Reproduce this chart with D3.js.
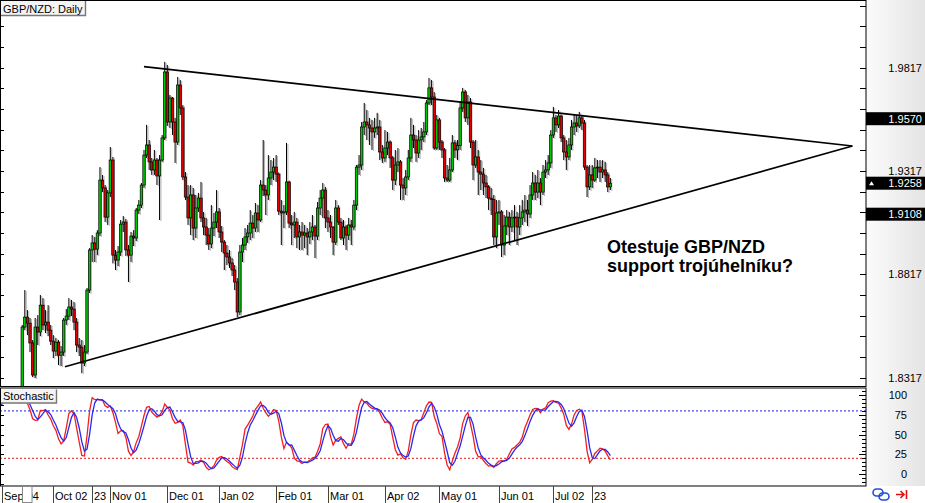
<!DOCTYPE html>
<html><head><meta charset="utf-8">
<script src="https://cdn.jsdelivr.net/npm/d3@7"></script>
<style>html,body{margin:0;padding:0;background:#fff;}svg{display:block;font-family:"Liberation Sans",Arial,sans-serif;}</style>
</head><body><svg id="c" width="925" height="503"></svg>
<script>
// ---------- DATA ----------
const title = "GBP/NZD: Daily";
const firstDate = "2017-08-09";              // first bar in the data (off-screen to the left)
const holidays = ["2017-12-25", "2018-01-01"]; // days with no bar
const firstVisibleDate = "2017-09-04";
// daily bars: [open, high, low, close]
const ohlc = [
[1.7780,1.7840,1.7730,1.7800],[1.7800,1.7850,1.7720,1.7740],[1.7740,1.7790,1.7680,1.7700],[1.7700,1.7760,1.7650,1.7730],
[1.7730,1.7770,1.7640,1.7660],[1.7660,1.7710,1.7600,1.7690],[1.7690,1.7740,1.7640,1.7650],[1.7650,1.7700,1.7590,1.7620],
[1.7620,1.7680,1.7580,1.7660],[1.7660,1.7700,1.7600,1.7640],
[1.7640,1.7720,1.7610,1.7690],[1.7690,1.7750,1.7650,1.7730],[1.7730,1.7800,1.7700,1.7780],[1.7780,1.7830,1.7720,1.7760],
[1.7760,1.7820,1.7690,1.7800],[1.7800,1.7880,1.7780,1.7860],[1.7860,1.7920,1.7820,1.7840],[1.7840,1.7960,1.7830,1.7950],
// Sep 04
[1.7950,1.8010,1.7920,1.7990],[1.7990,1.8060,1.7960,1.8040],[1.8040,1.8100,1.7990,1.8020],[1.8020,1.8130,1.8000,1.8110],
[1.8110,1.8190,1.8080,1.8170],[1.8170,1.8230,1.8110,1.8140],[1.8140,1.8200,1.8090,1.8180],[1.8180,1.8260,1.8150,1.8220],
[1.8220,1.8572,1.8200,1.8562],[1.8562,1.8741,1.8547,1.8610],[1.8610,1.8644,1.8523,1.8581],[1.8581,1.8606,1.8441,1.8485],
[1.8485,1.8499,1.8320,1.8330],[1.8330,1.8606,1.8315,1.8562],[1.8562,1.8620,1.8475,1.8538],[1.8538,1.8717,1.8518,1.8668],
[1.8668,1.8702,1.8547,1.8572],[1.8572,1.8644,1.8533,1.8586],[1.8586,1.8668,1.8518,1.8547],[1.8547,1.8572,1.8475,1.8494],
// Oct 02
[1.8494,1.8523,1.8412,1.8446],[1.8446,1.8509,1.8422,1.8489],[1.8489,1.8499,1.8378,1.8426],[1.8426,1.8470,1.8373,1.8441],
[1.8441,1.8606,1.8422,1.8596],[1.8596,1.8649,1.8572,1.8615],[1.8615,1.8702,1.8596,1.8659],[1.8659,1.8693,1.8615,1.8649],
[1.8649,1.8683,1.8547,1.8586],[1.8586,1.8606,1.8441,1.8475],[1.8475,1.8509,1.8422,1.8465],[1.8465,1.8499,1.8339,1.8388],
[1.8388,1.8475,1.8373,1.8441],[1.8441,1.8751,1.8431,1.8741],[1.8741,1.8944,1.8727,1.8935],[1.8935,1.9007,1.8877,1.8969],
[1.8969,1.8998,1.8877,1.8939],[1.8939,1.9031,1.8910,1.9017],[1.9017,1.9336,1.9002,1.9273],[1.9273,1.9298,1.9215,1.9235],
[1.9235,1.9249,1.9070,1.9094],[1.9094,1.9225,1.9056,1.9211],
// Nov 01
[1.9211,1.9433,1.9191,1.9370],[1.9370,1.9385,1.8870,1.8910],[1.8910,1.8935,1.8838,1.8886],[1.8886,1.8954,1.8857,1.8925],
[1.8925,1.9080,1.8906,1.9060],[1.9060,1.9099,1.9022,1.9070],[1.9070,1.9085,1.8906,1.8935],[1.8935,1.8959,1.8780,1.8910],
[1.8910,1.9022,1.8877,1.9002],[1.9002,1.9031,1.8954,1.8993],[1.8993,1.9138,1.8978,1.9128],[1.9128,1.9177,1.9109,1.9152],
[1.9152,1.9259,1.9138,1.9249],[1.9249,1.9419,1.9235,1.9394],[1.9394,1.9540,1.9380,1.9443],[1.9443,1.9467,1.9322,1.9361],
[1.9361,1.9380,1.9298,1.9322],[1.9322,1.9419,1.9298,1.9370],[1.9370,1.9380,1.9249,1.9293],[1.9293,1.9394,1.9080,1.9370],
[1.9370,1.9491,1.9361,1.9477],[1.9477,1.9845,1.9467,1.9796],
// Dec 01
[1.9796,1.9830,1.9535,1.9554],[1.9554,1.9685,1.9525,1.9670],[1.9670,1.9675,1.9491,1.9554],[1.9554,1.9574,1.9356,1.9457],
[1.9457,1.9772,1.9443,1.9733],[1.9733,1.9757,1.9588,1.9622],[1.9622,1.9636,1.9273,1.9288],[1.9288,1.9312,1.9177,1.9191],
[1.9191,1.9249,1.9056,1.9090],[1.9090,1.9249,1.9007,1.9201],[1.9201,1.9235,1.8983,1.9041],[1.9041,1.9201,1.8993,1.9138],
[1.9138,1.9211,1.9119,1.9186],[1.9186,1.9264,1.9070,1.9090],[1.9090,1.9119,1.9007,1.9046],[1.9046,1.9090,1.8959,1.9007],
[1.9007,1.9041,1.8935,1.8964],[1.8964,1.9152,1.8944,1.9041],[1.9041,1.9114,1.9002,1.9070],[1.9070,1.9225,1.9041,1.9119],
// Jan 02
[1.9119,1.9138,1.8993,1.9022],[1.9022,1.9051,1.8925,1.8973],[1.8973,1.8983,1.8838,1.8920],[1.8920,1.8959,1.8862,1.8901],
[1.8901,1.8935,1.8848,1.8872],[1.8872,1.8896,1.8809,1.8838],[1.8838,1.8862,1.8741,1.8780],[1.8780,1.8799,1.8610,1.8635],
[1.8635,1.8959,1.8620,1.8925],[1.8925,1.8993,1.8877,1.8959],[1.8959,1.9041,1.8935,1.8998],[1.8998,1.9056,1.8969,1.9017],
[1.9017,1.9128,1.8983,1.9065],[1.9065,1.9104,1.8993,1.9041],[1.9041,1.9162,1.9022,1.9114],[1.9114,1.9152,1.9022,1.9080],
[1.9080,1.9273,1.9070,1.9249],[1.9249,1.9467,1.9196,1.9225],[1.9225,1.9249,1.9104,1.9201],[1.9201,1.9394,1.9177,1.9283],
[1.9283,1.9370,1.9249,1.9312],[1.9312,1.9380,1.9273,1.9336],
// Feb 01
[1.9336,1.9394,1.9264,1.9302],[1.9302,1.9310,1.9104,1.9123],[1.9123,1.9177,1.8959,1.9114],[1.9114,1.9152,1.9041,1.9119],
[1.9119,1.9453,1.9104,1.9264],[1.9264,1.9270,1.9041,1.9065],[1.9065,1.9104,1.8959,1.9056],[1.9056,1.9119,1.8993,1.9070],
[1.9070,1.9090,1.8944,1.8998],[1.8998,1.9056,1.8935,1.9022],[1.9022,1.9070,1.8935,1.9007],[1.9007,1.9056,1.8944,1.9017],
[1.9017,1.9041,1.8910,1.8998],[1.8998,1.9070,1.8964,1.9022],[1.9022,1.9104,1.8983,1.9046],[1.9046,1.9056,1.8896,1.9002],
[1.9002,1.9167,1.8983,1.9138],[1.9138,1.9225,1.9104,1.9186],[1.9186,1.9259,1.9090,1.9225],[1.9225,1.9240,1.9041,1.9090],
// Mar 01
[1.9090,1.9128,1.9022,1.9070],[1.9070,1.9104,1.8993,1.9046],[1.9046,1.9050,1.8910,1.8973],[1.8973,1.9177,1.8959,1.9138],
[1.9138,1.9152,1.9056,1.9070],[1.9070,1.9090,1.8983,1.8993],[1.8993,1.9080,1.8959,1.9046],[1.9046,1.9056,1.8935,1.9007],
[1.9007,1.9090,1.8983,1.9056],[1.9056,1.9080,1.8959,1.9046],[1.9046,1.9177,1.9031,1.9152],[1.9152,1.9346,1.9128,1.9336],
[1.9336,1.9394,1.9298,1.9346],[1.9346,1.9554,1.9322,1.9530],[1.9530,1.9646,1.9491,1.9554],[1.9554,1.9612,1.9467,1.9540],
[1.9540,1.9574,1.9443,1.9525],[1.9525,1.9564,1.9419,1.9506],[1.9506,1.9574,1.9477,1.9525],[1.9525,1.9598,1.9491,1.9530],
[1.9530,1.9564,1.9370,1.9409],[1.9409,1.9443,1.9356,1.9380],
// Apr 02
[1.9380,1.9515,1.9361,1.9428],[1.9428,1.9506,1.9394,1.9457],[1.9457,1.9465,1.9332,1.9380],[1.9380,1.9390,1.9225,1.9273],
[1.9273,1.9419,1.9249,1.9346],[1.9346,1.9428,1.9312,1.9361],[1.9361,1.9370,1.9177,1.9249],[1.9249,1.9283,1.9177,1.9235],
[1.9235,1.9322,1.9201,1.9288],[1.9288,1.9419,1.9273,1.9380],[1.9380,1.9574,1.9361,1.9491],[1.9491,1.9540,1.9428,1.9467],
[1.9467,1.9491,1.9361,1.9404],[1.9404,1.9515,1.9380,1.9467],[1.9467,1.9525,1.9419,1.9482],[1.9482,1.9554,1.9457,1.9506],
[1.9506,1.9660,1.9491,1.9646],[1.9646,1.9767,1.9636,1.9719],[1.9719,1.9757,1.9636,1.9675],[1.9675,1.9699,1.9419,1.9428],
[1.9428,1.9588,1.9419,1.9564],
// May 01
[1.9564,1.9574,1.9419,1.9457],[1.9457,1.9467,1.9380,1.9419],[1.9419,1.9428,1.9264,1.9283],[1.9283,1.9346,1.9264,1.9273],
[1.9273,1.9380,1.9264,1.9322],[1.9322,1.9491,1.9312,1.9453],[1.9453,1.9467,1.9380,1.9419],[1.9419,1.9467,1.9370,1.9440],
[1.9440,1.9651,1.9419,1.9622],[1.9622,1.9719,1.9603,1.9699],[1.9699,1.9709,1.9554,1.9574],[1.9574,1.9685,1.9540,1.9651],
[1.9651,1.9670,1.9428,1.9457],[1.9457,1.9467,1.9273,1.9346],[1.9346,1.9467,1.9332,1.9385],[1.9385,1.9419,1.9201,1.9312],
[1.9312,1.9370,1.9225,1.9302],[1.9302,1.9332,1.9201,1.9259],[1.9259,1.9298,1.9186,1.9240],[1.9240,1.9249,1.9128,1.9186],
[1.9186,1.9235,1.9104,1.9180],[1.9180,1.9201,1.8959,1.8998],[1.8998,1.9177,1.8944,1.9114],
// Jun 01
[1.9114,1.9177,1.9056,1.9119],[1.9119,1.9128,1.8901,1.8959],[1.8959,1.9104,1.8910,1.9051],[1.9051,1.9128,1.9007,1.9094],
[1.9094,1.9119,1.8959,1.9046],[1.9046,1.9128,1.9022,1.9090],[1.9090,1.9152,1.8983,1.9094],[1.9094,1.9119,1.8959,1.9046],
[1.9046,1.9152,1.9007,1.9090],[1.9090,1.9177,1.9056,1.9119],[1.9119,1.9201,1.9070,1.9128],[1.9128,1.9177,1.9051,1.9109],
[1.9109,1.9249,1.9090,1.9201],[1.9201,1.9312,1.9177,1.9259],[1.9259,1.9298,1.9177,1.9215],[1.9215,1.9322,1.9186,1.9259],
[1.9259,1.9283,1.9152,1.9215],[1.9215,1.9346,1.9201,1.9312],[1.9312,1.9370,1.9283,1.9322],[1.9322,1.9394,1.9298,1.9356],
[1.9356,1.9515,1.9332,1.9491],
// Jul 02
[1.9491,1.9627,1.9477,1.9574],[1.9574,1.9588,1.9506,1.9540],[1.9540,1.9612,1.9525,1.9583],[1.9583,1.9590,1.9457,1.9477],
[1.9477,1.9491,1.9370,1.9409],[1.9409,1.9467,1.9322,1.9385],[1.9385,1.9477,1.9370,1.9443],[1.9443,1.9564,1.9419,1.9530],
[1.9530,1.9588,1.9491,1.9549],[1.9549,1.9588,1.9506,1.9535],[1.9535,1.9603,1.9525,1.9574],[1.9574,1.9588,1.9515,1.9549],
[1.9549,1.9564,1.9322,1.9336],[1.9336,1.9346,1.9191,1.9240],[1.9240,1.9346,1.9225,1.9298],
// Jul 23
[1.9298,1.9346,1.9235,1.9273],[1.9273,1.9380,1.9264,1.9332],[1.9332,1.9370,1.9283,1.9336],[1.9336,1.9370,1.9264,1.9312],
[1.9312,1.9370,1.9283,1.9322],[1.9322,1.9361,1.9264,1.9298],[1.9298,1.9312,1.9215,1.9240],[1.9240,1.9283,1.9225,1.9258]
];
const priceLabels = [1.9817, 1.9317, 1.8817, 1.8317];
const priceTickStep = 0.01;
const markers = [ {value:1.9570, current:false}, {value:1.9258, current:true}, {value:1.9108, current:false} ];
// trend lines: [date of anchor bar, price] -> [bars after that anchor, price]
const trendLines = [ [["2017-11-20", 1.9822], [273.4, 1.9438]], [["2017-10-06", 1.8370, 0.5], [303.9, 1.9438]] ];
const timeLabels = [["2017-09-04","Sep 04"],["2017-10-02","Oct 02"],["2017-10-23","23"],["2017-11-01","Nov 01"],
  ["2017-12-01","Dec 01"],["2018-01-02","Jan 02"],["2018-02-01","Feb 01"],["2018-03-01","Mar 01"],["2018-04-02","Apr 02"],
  ["2018-05-01","May 01"],["2018-06-01","Jun 01"],["2018-07-02","Jul 02"],["2018-07-23","23"]];
const stochParams = {k:14, d:3, slowing:3};
const stochLevels = [80, 20];
const stochLabels = [100, 75, 50, 25, 0];
const annotation = ["Otestuje GBP/NZD", "support trojúhelníku?"];

// ---------- LAYOUT ----------
const W = 925, H = 503, R = 866;
const main = {top:0, bottom:386.5};
const sto = {top:387.5, bottom:486};
const svg = d3.select("#c");

// trading dates
const fmt = d3.timeFormat("%Y-%m-%d"), parse = d3.timeParse("%Y-%m-%d");
const dates = [];
{ let d = parse(firstDate);
  while (dates.length < ohlc.length) {
    const wd = d.getDay(), s = fmt(d);
    if (wd !== 0 && wd !== 6 && !holidays.includes(s)) dates.push(s);
    d = d3.timeDay.offset(d, 1);
  } }
const i0 = dates.indexOf(firstVisibleDate), iN = ohlc.length - 1;
const x = d3.scaleLinear().domain([i0, iN]).range([1.5, 1.5 + (iN - i0) * 2.591]);
const y = d3.scaleLinear().domain([1.9317, 1.9817]).range([171, 67.65]);
const ys = d3.scaleLinear().domain([0, 100]).range([474.3, 395]);

// defs
const defs = svg.append("defs");
const g1 = defs.append("linearGradient").attr("id","axbg").attr("x1","0").attr("x2","1");
g1.append("stop").attr("offset","0").attr("stop-color","#fbfbfb");
g1.append("stop").attr("offset","1").attr("stop-color","#e4e4e4");
defs.append("clipPath").attr("id","cm").append("rect").attr("x",0).attr("y",main.top).attr("width",R).attr("height",main.bottom-main.top);
defs.append("clipPath").attr("id","cs").append("rect").attr("x",0).attr("y",sto.top).attr("width",R).attr("height",sto.bottom-sto.top);

svg.append("rect").attr("width",W).attr("height",H).attr("fill","#fff");
svg.append("rect").attr("x",R).attr("y",0).attr("width",W-R).attr("height",sto.bottom).attr("fill","url(#axbg)");

// ---------- candles ----------
const gc = svg.append("g").attr("clip-path","url(#cm)");
const bars = ohlc.map((b,i)=>({i, o:b[0], h:b[1], l:b[2], c:b[3]}));
gc.selectAll("line.sh").data(bars).join("line").attr("class","sh")
  .attr("x1",d=>x(d.i)+1.4).attr("x2",d=>x(d.i)+1.4).attr("y1",d=>y(d.h)+1).attr("y2",d=>y(d.l)+1)
  .attr("stroke","#b0b0b0").attr("stroke-width",1);
gc.selectAll("line.wk").data(bars).join("line").attr("class","wk")
  .attr("x1",d=>x(d.i)).attr("x2",d=>x(d.i)).attr("y1",d=>y(d.h)).attr("y2",d=>y(d.l))
  .attr("stroke","#000").attr("stroke-width",1);
gc.selectAll("rect.bd").data(bars).join("rect").attr("class","bd")
  .attr("x",d=>x(d.i)-1.2).attr("width",2.4)
  .attr("y",d=>y(Math.max(d.o,d.c))).attr("height",d=>Math.max(0.8, Math.abs(y(d.o)-y(d.c))))
  .attr("fill",d=>d.c>=d.o?"#00c800":"#e00000").attr("stroke","#000").attr("stroke-width",0.7);

// trend lines
const tIdx = a => dates.indexOf(a[0]) + (a[2] || 0);
gc.selectAll("line.tl").data(trendLines).join("line").attr("class","tl")
  .attr("x1",d=>x(tIdx(d[0]))).attr("y1",d=>y(d[0][1]))
  .attr("x2",d=>x(tIdx(d[0]) + d[1][0])).attr("y2",d=>y(d[1][1]))
  .attr("stroke","#000").attr("stroke-width",1.7);

// annotation
svg.append("g").selectAll("text").data(annotation).join("text")
  .attr("x",607).attr("y",(d,i)=>253+i*18.5).text(d=>d)
  .attr("font-weight","bold").attr("font-size",18).attr("fill","#000");

// ---------- stochastic ----------
const kv = [], dv = [];
for (let i=0;i<bars.length;i++){
  if (i >= stochParams.k-1 + stochParams.slowing-1){
    let num=0, den=0;
    for (let j=i-stochParams.slowing+1;j<=i;j++){
      const win = bars.slice(j-stochParams.k+1, j+1);
      const ll = d3.min(win,b=>b.l), hh = d3.max(win,b=>b.h);
      num += bars[j].c - ll; den += hh - ll;
    }
    kv.push({i, v: den ? 100*num/den : 50});
  }
}
for (let n=stochParams.d-1;n<kv.length;n++){
  dv.push({i:kv[n].i, v: d3.mean(kv.slice(n-stochParams.d+1,n+1),e=>e.v)});
}
const gs = svg.append("g").attr("clip-path","url(#cs)");
gs.selectAll("line.lv").data(stochLevels).join("line").attr("class","lv")
  .attr("x1",0).attr("x2",R).attr("y1",d=>ys(d)).attr("y2",d=>ys(d))
  .attr("stroke",d=>d>50?"#4b4bf0":"#e84a4a").attr("stroke-width",1.3).attr("stroke-dasharray","2,2");
const ln = d3.line().x(d=>x(d.i)).y(d=>ys(d.v));
gs.append("path").datum(kv).attr("d",ln).attr("fill","none").attr("stroke","#f02020").attr("stroke-width",1.3);
gs.append("path").datum(dv).attr("d",ln).attr("fill","none").attr("stroke","#2828f0").attr("stroke-width",1.3);

// ---------- frames ----------
svg.append("rect").attr("x",0.5).attr("y",0.5).attr("width",R-0.5).attr("height",main.bottom-0.5)
  .attr("fill","none").attr("stroke","#000").attr("stroke-width",1);
svg.append("rect").attr("x",0.5).attr("y",sto.top+0.5).attr("width",R-0.5).attr("height",sto.bottom-sto.top-0.5)
  .attr("fill","none").attr("stroke","#000").attr("stroke-width",1);

// price ticks
const pTicks = d3.range(Math.ceil((y.invert(main.bottom)-1.8317)/priceTickStep), Math.floor((y.invert(0)-1.8317)/priceTickStep)+1)
  .map(k=>1.8317+k*priceTickStep);
const gpt = svg.append("g");
pTicks.forEach(p=>{
  gpt.append("line").attr("x1",R-6).attr("x2",R).attr("y1",Math.round(y(p))+0.5).attr("y2",Math.round(y(p))+0.5).attr("stroke","#000");
  gpt.append("line").attr("x1",0).attr("x2",4).attr("y1",Math.round(y(p))+0.5).attr("y2",Math.round(y(p))+0.5).attr("stroke","#000");
});
svg.append("g").selectAll("text").data(priceLabels).join("text")
  .attr("x",922).attr("y",d=>y(d)+4).attr("text-anchor","end").attr("font-size",11).attr("fill","#000")
  .text(d=>d.toFixed(4));

// markers
const gm = svg.append("g").selectAll("g").data(markers).join("g");
gm.append("rect").attr("x",R).attr("width",W-R).attr("y",d=>y(d.value)-6.5).attr("height",13).attr("fill","#000");
gm.append("text").attr("x",922).attr("y",d=>y(d.value)+4).attr("text-anchor","end").attr("font-size",11).attr("fill","#fff")
  .text(d=>d.value.toFixed(4));
gm.filter(d=>d.current).append("path")
  .attr("d",d=>`M${R+3},${y(d.value)+2}l2.5,-4l2.5,4z`).attr("fill","#fff");

// stochastic ticks & labels
const sTicks = d3.range(-10, 111, 5);
svg.append("g").selectAll("line").data(sTicks.filter(v=>ys(v)>sto.top+1 && ys(v)<sto.bottom-1)).join("line")
  .attr("x1",d=>d%25===0?R-7:R-4).attr("x2",R).attr("y1",d=>Math.round(ys(d))+0.5).attr("y2",d=>Math.round(ys(d))+0.5).attr("stroke","#000");
svg.append("g").selectAll("line").data(d3.range(-12.5,111,12.5).filter(v=>ys(v)>sto.top+1 && ys(v)<sto.bottom-1)).join("line")
  .attr("x1",0).attr("x2",4).attr("y1",d=>Math.round(ys(d))+0.5).attr("y2",d=>Math.round(ys(d))+0.5).attr("stroke","#000");
svg.append("g").selectAll("text").data(stochLabels).join("text")
  .attr("x",907).attr("y",d=>ys(d)+4).attr("text-anchor","end").attr("font-size",11).attr("fill","#000").text(d=>d);

// ---------- time axis ----------
const gt = svg.append("g");
timeLabels.forEach(([ds,lab])=>{
  const xi = x(dates.indexOf(ds));
  gt.append("line").attr("x1",Math.round(xi)+0.5).attr("x2",Math.round(xi)+0.5).attr("y1",sto.bottom).attr("y2",H).attr("stroke","#444");
  gt.append("text").attr("x",Math.round(xi)+2).attr("y",H-3).attr("font-size",11).attr("fill","#000").text(lab);
});
gt.append("rect").attr("x",22.5).attr("y",486.5).attr("width",9.5).attr("height",16).attr("fill","#fff").attr("stroke","#888");

// ---------- labels boxes ----------
function tagBox(xp, yp, w, h, txt){
  const g = svg.append("g");
  g.append("rect").attr("x",xp).attr("y",yp).attr("width",w).attr("height",h).attr("fill","#f4f4f4");
  g.append("path").attr("d",`M${xp+w-0.5},${yp} V${yp+h-0.5} H${xp}`).attr("fill","none").attr("stroke","#777").attr("stroke-width",1.4);
  g.append("text").attr("x",xp+2).attr("y",yp+h-3.5).attr("font-size",11).attr("fill","#000").text(txt);
}
tagBox(1, 1, 85, 15, title);
tagBox(1, sto.top+2, 56, 14, "Stochastic");

// ---------- corner icons ----------
const gi = svg.append("g");
gi.append("rect").attr("x",873).attr("y",489).attr("width",10).attr("height",7).attr("rx",3.5).attr("fill","none").attr("stroke","#1f4fd8").attr("stroke-width",1.6);
gi.append("rect").attr("x",879).attr("y",493).attr("width",10).attr("height",7).attr("rx",3.5).attr("fill","none").attr("stroke","#1f4fd8").attr("stroke-width",1.6);
gi.append("path").attr("d","M896,494.5H904M900.5,491l3.5,3.5l-3.5,3.5M906.5,490V499").attr("fill","none").attr("stroke","#e01010").attr("stroke-width",1.6);
</script></body></html>
